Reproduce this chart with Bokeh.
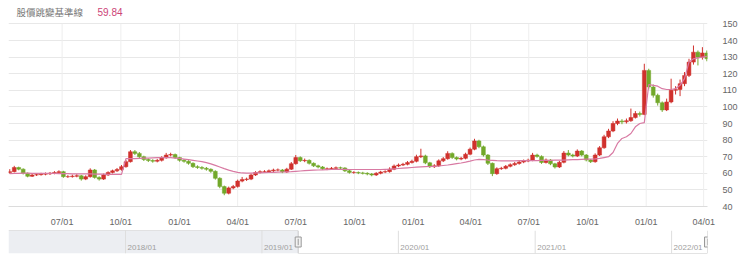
import pandas as pd
from bokeh.plotting import figure
from bokeh.models import FixedTicker, DatetimeTickFormatter, Range1d, ColumnDataSource
from bokeh.layouts import column
from bokeh.embed import file_html
from bokeh.resources import INLINE
from bokeh.core.properties import value

# ---------------- data (weekly) ----------------
week_start = "2019-04-08"
n_weeks = 157

closes = [61.0, 63.5, 62.5, 60.0, 58.2, 59.0, 59.2, 59.5, 59.7, 60.0,
          60.5, 61.0, 58.0, 58.0, 58.3, 58.5, 56.5, 58.0, 62.0, 57.5,
          56.5, 59.0, 60.5, 61.5, 62.3, 64.0, 67.0, 73.0, 72.0, 70.0,
          68.3, 67.7, 67.3, 67.8, 69.4, 71.0, 71.3, 69.5, 67.8, 67.2,
          66.0, 64.0, 63.5, 63.0, 62.4, 61.2, 57.0, 52.0, 48.0, 51.2,
          52.0, 55.3, 56.3, 56.5, 59.0, 60.5, 61.0, 61.0, 61.5, 62.0,
          62.0, 60.8, 62.5, 65.8, 69.5, 67.6, 67.8, 66.0, 64.5, 63.8,
          62.7, 62.7, 63.0, 63.3, 63.2, 61.5, 60.5, 60.5, 60.2, 60.0,
          59.6, 59.0, 60.0, 60.8, 61.0, 62.5, 64.4, 65.0, 65.4, 66.5,
          67.2, 70.0, 70.5, 66.3, 64.0, 64.5, 67.5, 68.8, 72.0, 69.5,
          68.6, 69.0, 71.5, 74.5, 79.5, 76.0, 71.0, 66.0, 59.8, 62.8,
          63.0, 64.2, 65.2, 65.9, 66.8, 67.4, 67.9, 71.0, 70.2, 66.5,
          68.0, 65.7, 63.8, 66.6, 72.2, 71.0, 70.4, 73.4, 71.0, 68.0,
          67.0, 71.0, 75.4, 82.0, 85.5, 90.0, 91.5, 91.0, 91.7, 93.6,
          96.0, 95.5, 122.0, 112.0, 107.0, 102.5, 98.2, 103.0, 110.0, 110.5,
          114.0, 119.0, 127.0, 133.0, 130.0, 132.5, 129.0]

opens = [60.5] + closes[:-1]

highs = [62.5, 64.5, 64.0, 63.0, 60.5, 59.8, 60.0, 60.3, 60.5, 60.8,
         61.3, 61.8, 61.5, 58.9, 59.2, 59.5, 59.0, 58.8, 63.0, 62.6,
         58.2, 59.8, 61.2, 62.2, 63.2, 65.0, 68.0, 74.0, 74.0, 72.8,
         70.6, 69.0, 68.5, 68.7, 70.3, 72.3, 72.4, 71.9, 70.0, 68.6,
         67.9, 66.6, 64.8, 64.3, 63.8, 63.0, 61.8, 57.6, 52.6, 52.0,
         53.0, 56.2, 57.8, 57.4, 59.8, 61.3, 61.8, 61.9, 62.3, 62.8,
         62.9, 62.6, 63.3, 66.8, 71.0, 70.2, 68.9, 68.4, 66.6, 65.2,
         64.4, 63.5, 63.8, 64.1, 64.0, 63.7, 62.0, 61.3, 61.1, 60.9,
         60.6, 60.2, 60.7, 61.5, 61.8, 63.6, 65.3, 65.9, 66.3, 67.4,
         68.2, 71.2, 74.8, 71.2, 66.9, 65.5, 68.4, 69.8, 73.3, 72.6,
         70.2, 69.9, 72.4, 75.5, 80.8, 80.2, 76.7, 71.6, 66.5, 63.6,
         63.9, 65.0, 66.0, 66.8, 67.6, 68.3, 68.8, 72.3, 71.8, 70.8,
         68.9, 68.6, 66.3, 67.5, 73.4, 74.0, 71.8, 74.4, 74.0, 71.6,
         68.6, 72.0, 76.4, 83.2, 86.8, 91.4, 93.0, 92.6, 93.0, 99.0,
         97.5, 97.2, 126.0, 123.0, 113.5, 108.0, 103.3, 105.0, 117.0, 112.5,
         116.5, 121.0, 129.0, 137.0, 134.0, 136.0, 134.0]

lows = [59.8, 60.5, 61.8, 59.3, 57.6, 57.8, 58.4, 58.6, 58.8, 59.0,
        59.4, 59.8, 57.3, 57.2, 57.4, 57.6, 55.6, 55.9, 57.4, 56.8,
        55.6, 56.0, 58.4, 59.9, 60.8, 61.6, 63.4, 66.5, 71.0, 69.0,
        67.4, 66.8, 66.4, 66.6, 67.1, 68.8, 70.2, 68.7, 67.0, 66.4,
        65.2, 63.2, 62.7, 62.2, 61.6, 60.3, 56.2, 51.0, 46.8, 47.3,
        50.4, 51.4, 54.6, 55.4, 55.9, 58.4, 59.9, 60.2, 60.3, 60.8,
        61.2, 60.1, 60.2, 62.0, 65.2, 66.8, 66.7, 65.3, 63.8, 63.0,
        62.0, 61.9, 62.0, 62.3, 62.4, 60.8, 59.8, 59.7, 59.5, 59.3,
        58.8, 58.2, 58.4, 59.4, 60.1, 60.4, 61.9, 63.7, 64.4, 64.8,
        65.9, 66.6, 69.2, 65.5, 63.2, 63.2, 63.9, 66.8, 68.2, 68.7,
        67.8, 67.9, 68.4, 70.9, 73.9, 75.1, 70.1, 65.0, 58.3, 59.1,
        62.1, 62.4, 63.6, 64.5, 65.2, 66.1, 66.7, 67.3, 69.4, 65.7,
        65.9, 64.9, 62.9, 63.2, 66.0, 70.2, 69.6, 69.8, 70.2, 67.2,
        66.2, 66.4, 70.4, 74.8, 81.2, 84.8, 89.0, 89.6, 90.0, 91.0,
        93.0, 94.2, 95.0, 110.5, 105.6, 100.8, 97.0, 97.5, 102.2, 107.5,
        106.5, 112.5, 118.0, 125.5, 125.0, 128.5, 127.5]

baseline = [59.84, 59.9, 60.0, 60.1, 60.1, 60.0, 60.0, 60.0, 59.9, 59.9,
            59.9, 59.8, 59.8, 59.8, 59.7, 59.7, 59.6, 59.6, 59.6, 59.5,
            59.5, 59.5, 59.4, 59.4, 59.4, 59.4,
            68.8, 68.8, 68.9, 69.0, 69.1, 69.2, 69.3, 69.4, 69.5, 69.5, 69.4,
            69.2, 69.0, 68.6, 68.2, 67.8, 67.4, 67.0, 66.4, 65.7, 64.8,
            63.8, 62.8, 61.9, 61.2, 60.6, 60.2,
            60.1, 60.1, 60.2, 60.3, 60.4, 60.5, 60.6, 60.7, 60.8, 60.9,
            61.0, 61.2, 61.4, 61.6, 61.8, 61.9, 62.0, 62.1, 62.2, 62.3,
            62.4, 62.4, 62.4, 62.3, 62.3, 62.3, 62.3,
            62.3, 62.3, 62.3, 62.3, 62.4, 62.5, 62.7, 62.9, 63.1, 63.3,
            63.5, 63.7, 63.9, 64.0, 64.1, 64.2, 64.4, 64.7, 65.0, 65.4,
            65.8, 66.2, 66.7, 67.3, 68.0,
            68.4, 68.3, 68.0, 67.8, 67.6, 67.5, 67.5, 67.5, 67.5, 67.6,
            67.6, 67.6, 67.7, 67.7, 67.8, 67.8, 67.8, 67.9, 67.9, 68.0,
            68.1, 68.2, 68.3, 68.4, 68.5, 68.6, 68.7, 69.0, 69.5,
            70.0, 72.5, 78.0, 81.0, 82.0, 84.0, 88.0, 90.0, 90.5, 113.5,
            113.0, 112.5, 111.0, 110.5, 110.5, 111.0, 113.0, 117.0, 127.0, 129.0,
            129.5, 130.0, 130.5]

title_text = "股價跳變基準線"
title_value = "59.84"

main_ticks = ["2019-07-01", "2019-10-01", "2020-01-01", "2020-04-01", "2020-07-01",
              "2020-10-01", "2021-01-01", "2021-04-01", "2021-07-01", "2021-10-01",
              "2022-01-01", "2022-04-01"]
y_ticks = [40, 50, 60, 70, 80, 90, 100, 110, 120, 130, 140, 150]
nav_years = ["2018-01-01", "2019-01-01", "2020-01-01", "2021-01-01", "2022-01-01"]
nav_labels = ["2018/01", "2019/01", "2020/01", "2021/01", "2022/01"]

main_start = "2019-04-08"
main_end = "2022-04-07"
nav_start = "2017-02-22"

# ---------------- helpers ----------------
def ms(s):
    return pd.Timestamp(s).value / 1e6

RED = "#d0312d"
GREEN = "#72a82a"
PINK = "#d87aa3"
FONT = "Liberation Sans"

Y_MIN, Y_MAX = 40, 150
FRAME_H = 211           # frame covers title strip + plot
PX_PER_UNIT = 1.7       # 17 px per 10 units
Y_TOP = Y_MAX + 24 / PX_PER_UNIT
TITLE_Y = Y_MIN + (FRAME_H - 12) / PX_PER_UNIT

dates = pd.date_range(week_start, periods=n_weeks, freq="7D") + pd.Timedelta(days=2)
inc = [c >= o for o, c in zip(opens, closes)]
src = ColumnDataSource(dict(
    x=dates, open=opens, close=closes, high=highs, low=lows,
    top=[max(o, c) for o, c in zip(opens, closes)],
    bottom=[min(o, c) for o, c in zip(opens, closes)],
    color=[RED if i else GREEN for i in inc],
))

# ---------------- main chart ----------------
p = figure(width=740, height=229, x_axis_type="datetime", y_axis_location="right",
           x_range=Range1d(ms(main_start), ms(main_end)), y_range=Range1d(Y_MIN, Y_TOP),
           output_backend="svg", toolbar_location=None,
           min_border_left=8, min_border_right=28, min_border_top=0, min_border_bottom=18)
p.outline_line_color = None
p.background_fill_color = "white"
p.border_fill_color = "white"

# vertical grid lines only over the plotting band
tick_ms = [ms(t) for t in main_ticks]
p.segment(x0=tick_ms, y0=[Y_MIN] * len(tick_ms), x1=tick_ms, y1=[Y_MAX] * len(tick_ms),
          line_color="#eeeeee", line_width=1)

p.segment(x0="x", y0="high", x1="x", y1="low", color="color", line_width=1, source=src)
p.vbar(x="x", width=6.0 * 86400000, top="top", bottom="bottom",
       fill_color="color", line_color="color", line_width=0.5, source=src)
p.line(x=dates, y=baseline, line_color=PINK, line_width=1.2)

p.xaxis.ticker = FixedTicker(ticks=tick_ms)
p.xaxis.formatter = DatetimeTickFormatter(days="%m/%d", months="%m/%d", years="%m/%d")
p.xaxis.axis_line_color = "#dcdcdc"
p.xaxis.major_tick_line_color = None
p.xaxis.minor_tick_line_color = None
p.xaxis.major_label_text_font = FONT
p.xaxis.major_label_text_font_size = "9px"
p.xaxis.major_label_text_color = "#666666"
p.xaxis.major_label_standoff = 4

p.yaxis.ticker = FixedTicker(ticks=y_ticks)
p.yaxis.axis_line_color = None
p.yaxis.major_tick_line_color = None
p.yaxis.minor_tick_line_color = None
p.yaxis.major_label_text_font = FONT
p.yaxis.major_label_text_font_size = "9px"
p.yaxis.major_label_text_color = "#666666"
p.yaxis.major_label_standoff = 9

p.ygrid.grid_line_color = "#e8e8e8"
p.xgrid.grid_line_color = None

p.text(x=[ms(main_start)], y=[TITLE_Y], text=[title_text], x_offset=8,
       text_font=value("Noto Sans CJK TC"), text_font_size="9.5px",
       text_color="#777777", text_baseline="middle", text_align="left")
p.text(x=[ms(main_start)], y=[TITLE_Y], text=[title_value], x_offset=89,
       text_font=value(FONT), text_font_size="10px",
       text_color="#cc4477", text_baseline="middle", text_align="left")

# ---------------- navigator ----------------
nav = figure(width=740, height=36, x_axis_type="datetime",
             x_range=Range1d(ms(nav_start), ms(main_end)), y_range=Range1d(0, 1),
             x_axis_location=None, y_axis_location=None,
             output_backend="svg", toolbar_location=None,
             min_border_left=8, min_border_right=28, min_border_top=1, min_border_bottom=12)
nav.outline_line_color = None
nav.xgrid.grid_line_color = None
nav.ygrid.grid_line_color = None

nav.quad(left=[ms(nav_start)], right=[ms(main_start)], bottom=[0], top=[1],
         fill_color="#eceef2", line_color=None)
nav.segment(x0=[ms(d) for d in nav_years], y0=[0] * len(nav_years),
            x1=[ms(d) for d in nav_years], y1=[1] * len(nav_years),
            line_color="#dedede", line_width=1)
nav.text(x=[ms(d) for d in nav_years], y=[0.08] * len(nav_years), text=nav_labels,
         x_offset=2, text_font=value(FONT), text_font_size="8px",
         text_color="#a0a0a0", text_baseline="bottom", text_align="left")
nav.line(x=[ms(nav_start), ms(main_start), ms(main_start), ms(main_end), ms(main_end)],
         y=[1, 1, 0, 0, 1], line_color="#c8c8c8", line_width=1)
handles = [ms(main_start), ms(main_end)]
nav.rect(x=handles, y=[0.5, 0.5], width=6, height=10, width_units="screen",
         height_units="screen", fill_color="#f2f2f2", line_color="#999999", line_width=1)
nav.segment(x0=handles, y0=[0.36, 0.36], x1=handles, y1=[0.64, 0.64],
            line_color="#999999", line_width=1)

layout = column(p, nav)
open("out.html", "w").write(file_html(layout, INLINE))
